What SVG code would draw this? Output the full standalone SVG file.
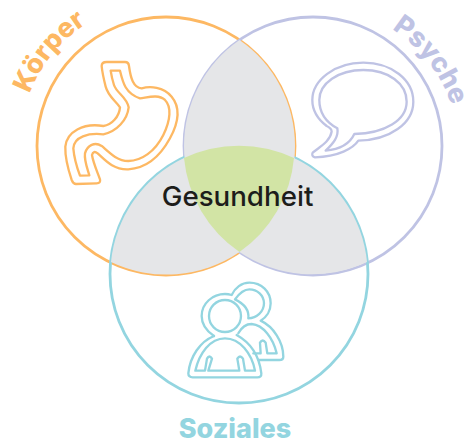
<svg xmlns="http://www.w3.org/2000/svg" width="470" height="440" viewBox="0 0 470 440">
<style>
.ring{fill:none;stroke-width:2.8}
.icon{fill:none;stroke-width:7;stroke-linejoin:round;stroke-linecap:round}
.o{stroke:#FDB863}.p{stroke:#BFC3E4}.t{stroke:#93D5E0}
.lab{font-family:"Inter","Liberation Sans",sans-serif;font-weight:800;font-size:27px}
.gray{fill:#E5E6E8}
</style>
<defs>
<path id="arcK" d="M29.7,93.7 A146,146 0 0 1 166,0"/>
<path id="arcP" d="M392,29 A146,146 0 0 1 459,146"/>
</defs>
<g id="koerper">
<circle class="ring o" cx="166" cy="146" r="129"/>
<text class="lab" fill="#FDB863"><textPath href="#arcK">Körper</textPath></text>
<path class="icon o" transform="scale(.3333)" d="M320,186 L375,186 Q386,186 387,198 C392,235 400,262 425,265 C450,258 490,260 515,290 C540,320 537,365 510,415 C480,470 440,505 385,508 C340,510 315,480 293,460 Q280,450 276,465 C280,490 292,515 300,538 Q303,550 290,550 L228,552 Q220,552 215,540 C205,510 195,470 196,440 C200,395 250,368 310,378 C335,375 358,350 360,322 C345,300 325,290 317,260 C312,240 307,220 305,198 Q305,186 320,186 Z"/>
<path class="icon o" transform="scale(.3333)" d="M332,212 L360,212 C368,245 375,280 420,295 C445,292 475,282 495,300 C515,320 512,360 490,405 C465,455 425,482 385,483 C350,483 325,455 305,438 C285,425 262,435 255,460 C252,480 262,505 268,526 L240,527 C230,500 222,470 220,445 C222,410 265,398 310,403 C350,395 382,360 386,322 C380,290 350,280 342,255 C337,240 334,225 332,212 Z"/>
</g>
<g id="psyche">
<circle class="ring p" cx="313" cy="146" r="129"/>
<text class="lab" fill="#BFC3E4"><textPath href="#arcP">Psyche</textPath></text>
<path class="icon p" transform="translate(235,0) scale(.3333)" d="M275,378 C245,355 232,330 232,300 C232,240 300,188 385,188 C470,188 535,240 535,305 C535,370 465,420 370,422 C355,445 310,470 240,472 Q228,468 233,458 C255,440 285,425 290,395 Q290,385 275,378 Z"/>
<path class="icon p" transform="translate(235,0) scale(.3333)" d="M307,385 C270,365 253,335 253,300 C253,250 310,210 385,210 C460,210 515,250 515,305 C515,360 450,400 358,402 C345,430 315,448 272,452 C295,430 312,410 307,385 Z"/>
</g>
<g id="soziales">
<circle class="ring t" cx="239" cy="274" r="129"/>
<text class="lab" fill="#93D5E0" x="235" y="437.5" text-anchor="middle">Soziales</text>
<g transform="translate(120,220) scale(.3333)" class="icon t">
<path d="M282,348 C255,330 245,310 245,288 C245,250 278,222 315,222 Q325,222 335,225 C345,203 365,188 388,188 C425,188 452,215 452,250 C452,272 440,292 422,302 C460,320 490,365 490,410 Q490,420 478,420 L416,420"/>
<circle cx="315" cy="288" r="48"/>
<path d="M345,238 C358,220 370,208 388,208 C412,208 432,226 432,250 C432,275 410,295 385,295 C388,270 370,250 345,238 Z"/>
<path d="M282,348 C240,365 210,410 205,460 Q205,472 218,472 L412,472 Q425,472 424,460 C418,410 395,370 350,345"/>
<path d="M226,452 C238,400 270,355 315,355 C360,355 395,400 405,452 L375,452 L369,416 Q360,403 352,416 L358,452 L265,452 L276,416 Q268,403 261,416 L255,452 Z"/>
<path d="M355,340 Q370,312 395,312 C430,315 460,355 470,400 L442,400 L437,368 Q428,355 420,368 L422,400 L400,400"/>
</g>
</g>
<g id="schnittmengen">
<path class="gray" d="M239.5,40 A129,129 0 0 1 239.5,252 A129,129 0 0 1 239.5,40 Z"/>
<path class="gray" d="M184,158 A129,129 0 0 1 239.5,252 A129,129 0 0 1 111,262 A129,129 0 0 1 184,158 Z"/>
<path class="gray" d="M294,158 A129,129 0 0 0 239.5,252 A129,129 0 0 0 367,262 A129,129 0 0 0 294,158 Z"/>
<path fill="#D2E4A5" d="M184,158 A129,129 0 0 1 294,158 A129,129 0 0 1 239.5,252 A129,129 0 0 1 184,158 Z"/>
</g>
<g id="gesundheit">
<text x="237.5" y="205.5" text-anchor="middle" font-family="Inter,'Liberation Sans',sans-serif" font-size="27.7" font-weight="500" fill="#1D1D1B">Gesundheit</text>
</g>
</svg>
